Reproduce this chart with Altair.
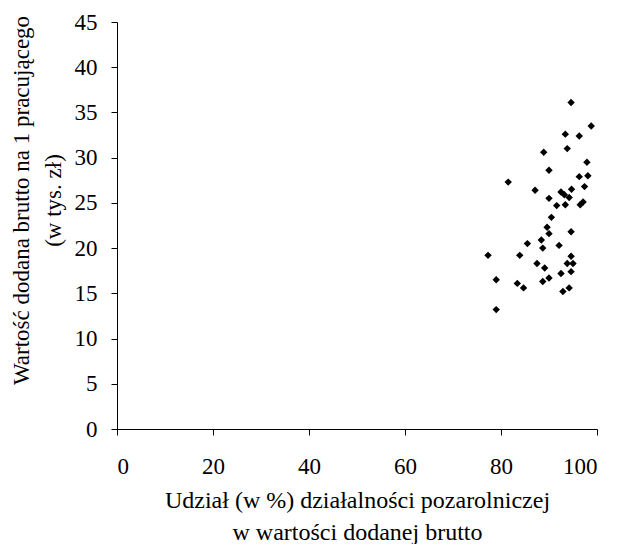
import altair as alt
import pandas as pd

share = [94.6, 98.8, 93.4, 96.3, 93.8, 88.9, 97.9, 90.0, 98.1, 96.3,
         81.5, 97.4, 87.1, 94.7, 92.5, 93.2, 94.2, 90.0, 97.1, 96.5,
         91.6, 93.4, 90.5, 89.6, 90.0, 94.6, 85.5, 88.4, 88.7, 92.1,
         77.3, 83.9, 94.6, 87.5, 89.1, 93.8, 95.0, 94.6, 92.5, 79.0,
         83.4, 84.7, 88.7, 90.0, 94.2, 92.9, 79.0]
value = [36.1, 33.5, 32.6, 32.4, 31.0, 30.6, 29.5, 28.6, 28.0, 27.9,
         27.3, 26.8, 26.4, 26.5, 26.2, 25.9, 25.6, 25.5, 25.1, 24.8,
         24.7, 24.8, 23.4, 22.3, 21.6, 21.8, 20.5, 20.9, 20.0, 20.3,
         19.2, 19.2, 19.1, 18.3, 17.8, 18.3, 18.3, 17.4, 17.2, 16.5,
         16.1, 15.6, 16.3, 16.7, 15.6, 15.2, 13.2]

x_title = ["Udział (w %) działalności pozarolniczej", "w wartości dodanej brutto"]
y_title = ["Wartość dodana brutto na 1 pracującego", "(w tys. zł)"]

df = pd.DataFrame({"x": share, "y": value})
FONT = "Liberation Serif"

chart = alt.Chart(df).mark_point(
    shape="diamond", filled=True, color="black", size=55, opacity=1
).encode(
    x=alt.X("x:Q", scale=alt.Scale(domain=[0, 100], nice=False),
            axis=alt.Axis(title=x_title, values=[0, 20, 40, 60, 80, 100],
                          grid=False, tickSize=6, labelPadding=20,
                          titlePadding=10, titleLineHeight=32,
                          titleFontSize=24, titleFontWeight="normal")),
    y=alt.Y("y:Q", scale=alt.Scale(domain=[0, 45], nice=False),
            axis=alt.Axis(title=y_title, values=list(range(0, 50, 5)),
                          grid=False, tickSize=6, labelPadding=14,
                          titleLineHeight=32, titleFontSize=23,
                          titleX=-84, titleY=178, titleFontWeight="normal")),
).properties(
    width=480, height=407,
    padding={"left": 109, "top": 14, "right": 10, "bottom": 115},
    autosize=alt.AutoSizeParams(type="none"),
).configure_view(stroke=None).configure_axis(
    domainColor="black", tickColor="black", labelColor="black", titleColor="black",
    labelFont=FONT, titleFont=FONT, labelFontSize=23,
    domainWidth=1, tickWidth=1
)

chart.save("out.html", embed_options={"renderer": "svg", "actions": False})
